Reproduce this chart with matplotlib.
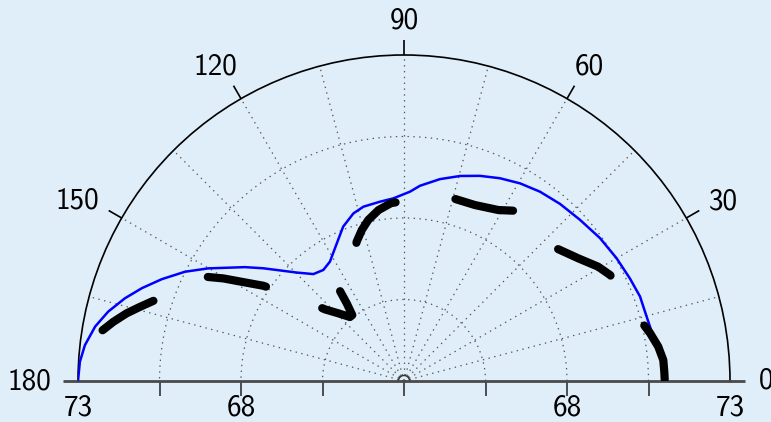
import os
import numpy as np
import matplotlib
matplotlib.use('Agg')
import matplotlib.pyplot as plt
from matplotlib.font_manager import FontProperties

# Computer Modern Sans, shipped with matplotlib
cmss = FontProperties(fname=os.path.join(matplotlib.get_data_path(), 'fonts', 'ttf', 'cmss10.ttf'),
                      size=21)

# blue curve (theta in degrees, r)
blue_theta = [10.0, 11.7, 14.8, 19.7, 24.4, 30.0, 36.1, 42.5, 48.6, 54.3, 59.6, 64.7, 69.7,
              74.7, 79.9, 85.3, 88.2, 93.4, 97.6, 103.1, 106.8, 111.5, 116.0, 121.8, 126.0,
              130.3, 134.7, 141.3, 144.4, 150.1, 153.5, 157.2, 160.5, 163.5, 166.8, 170.0,
              173.6, 176.6, 180.0]
blue_r = [70.75, 70.74, 70.70, 70.69, 70.61, 70.53, 70.44, 70.32, 70.24, 70.15, 70.03, 69.88,
          69.71, 69.52, 69.29, 69.01, 68.81, 68.61, 68.55, 68.49, 68.37, 68.09, 67.70, 67.31,
          67.21, 67.30, 67.68, 68.53, 69.00, 69.93, 70.51, 71.06, 71.53, 71.93, 72.32, 72.62,
          72.85, 72.96, 73.0]

# black dashed curve
black_theta = [0, 2.0, 4.6, 7.7, 11.0, 13.6, 20, 27.2, 30.5, 35.1, 41.4, 49, 56.5, 61.1, 68.0,
               74.3, 84, 94.2, 98.5, 102.5, 105.6, 108.8, 110.8, 115, 125.3, 126.4, 128.1,
               130.2, 134.1, 137.8, 142, 145.9, 148.4, 150.4, 152.5, 157, 162.0, 164.3, 166.3,
               168.5, 170.6, 177]
black_r = [71.0, 70.99, 70.98, 70.87, 70.69, 70.53, 70.3, 70.11, 69.91, 69.54, 69.18, 69.2,
           69.26, 68.99, 68.82, 68.80, 68.65, 68.47, 68.30, 68.06, 67.81, 67.51, 67.24, 66.4,
           66.45, 65.96, 65.57, 65.57, 65.89, 66.27, 67.2, 68.21, 68.79, 69.37, 69.94, 70.5,
           71.03, 71.41, 71.76, 72.10, 72.40, 72.9]

theta_labels = ['0', '30', '60', '90', '120', '150', '180']
r_ticks = [63, 65.5, 68, 70.5]
r_labels = ['68', '73']

bg = '#e0eef9'
rmin, rmax = 63, 73
px = 326 / (rmax - rmin)  # pixels per r unit

plt.rcParams['lines.scale_dashes'] = False

fig = plt.figure(figsize=(7.71, 4.22), dpi=100, facecolor=bg)
# polar axes keeps a square box; the half disc sits in its middle
ax = fig.add_axes([78 / 771, (422 - 544) / 422, 652 / 771, 652 / 422],
                  projection='polar', facecolor=bg)
ax.set_thetamin(0)
ax.set_thetamax(180)
ax.set_rlim(rmin, rmax)

ax.set_xticks(np.deg2rad(np.arange(0, 181, 15)))
ax.set_xticklabels([])
ax.set_yticks([65.5, 68, 70.5])
ax.set_yticklabels([])
ax.tick_params(length=0)
ax.grid(True, color='#555555', lw=0.9, ls=(0, (1, 3.2)))

ax.spines['polar'].set_color('black')
ax.spines['polar'].set_linewidth(1.2)
for s in ('start', 'end'):
    ax.spines[s].set_color('#4a4a4a')
    ax.spines[s].set_linewidth(2)

# small arc at the centre
arc = np.linspace(0, np.pi, 40)
ax.plot(arc, np.full_like(arc, rmin + 5.5 / px), color='#333333', lw=1, clip_on=False)

# outer theta ticks
tick_len = 15 / px
for a in range(0, 181, 30):
    t = np.deg2rad(a)
    col = '#4a4a4a' if a in (0, 180) else 'black'
    lw = 2 if a in (0, 180) else 1.2
    ax.plot([t, t], [rmax, rmax + tick_len], color=col, lw=lw, clip_on=False,
            solid_capstyle='butt')

# radial ticks along the base line
ax.plot(np.zeros(len(r_ticks)), r_ticks, ls='none', marker=3, ms=10.8, mew=1.2,
        color='#333333', clip_on=False)
ax.plot(np.full(len(r_ticks) - 1, np.pi), r_ticks[1:], ls='none', marker=3, ms=10.8,
        mew=1.2, color='#333333', clip_on=False)

# data
ax.plot(np.deg2rad(blue_theta), blue_r, color='#0000ff', lw=1.8, zorder=3)
ax.plot(np.deg2rad(black_theta), black_r, color='black', lw=5.9,
        ls=(84.7, (42.5, 43.4)), dash_capstyle='round', solid_joinstyle='round',
        dash_joinstyle='round', zorder=4)

# theta labels (centre positions)
lab_pos = [(0, 74.12), (29.3, 74.245), (59.45, 74.17), (90, 74.05),
           (120.97, 74.22), (151.1, 74.45), (180.2, 74.48)]
for s, (a, r) in zip(theta_labels, lab_pos):
    ax.text(np.deg2rad(a), r, s, ha='center', va='center', fontproperties=cmss)

# radial labels below the base line
for s, r in zip(r_labels, [68, 73]):
    for t in (0, np.pi):
        ax.annotate(s, xy=(t, r), xytext=(0, -19.4), textcoords='offset points',
                    ha='center', va='center', fontproperties=cmss, annotation_clip=False)

fig.savefig('out.png', dpi=100, facecolor=bg)
